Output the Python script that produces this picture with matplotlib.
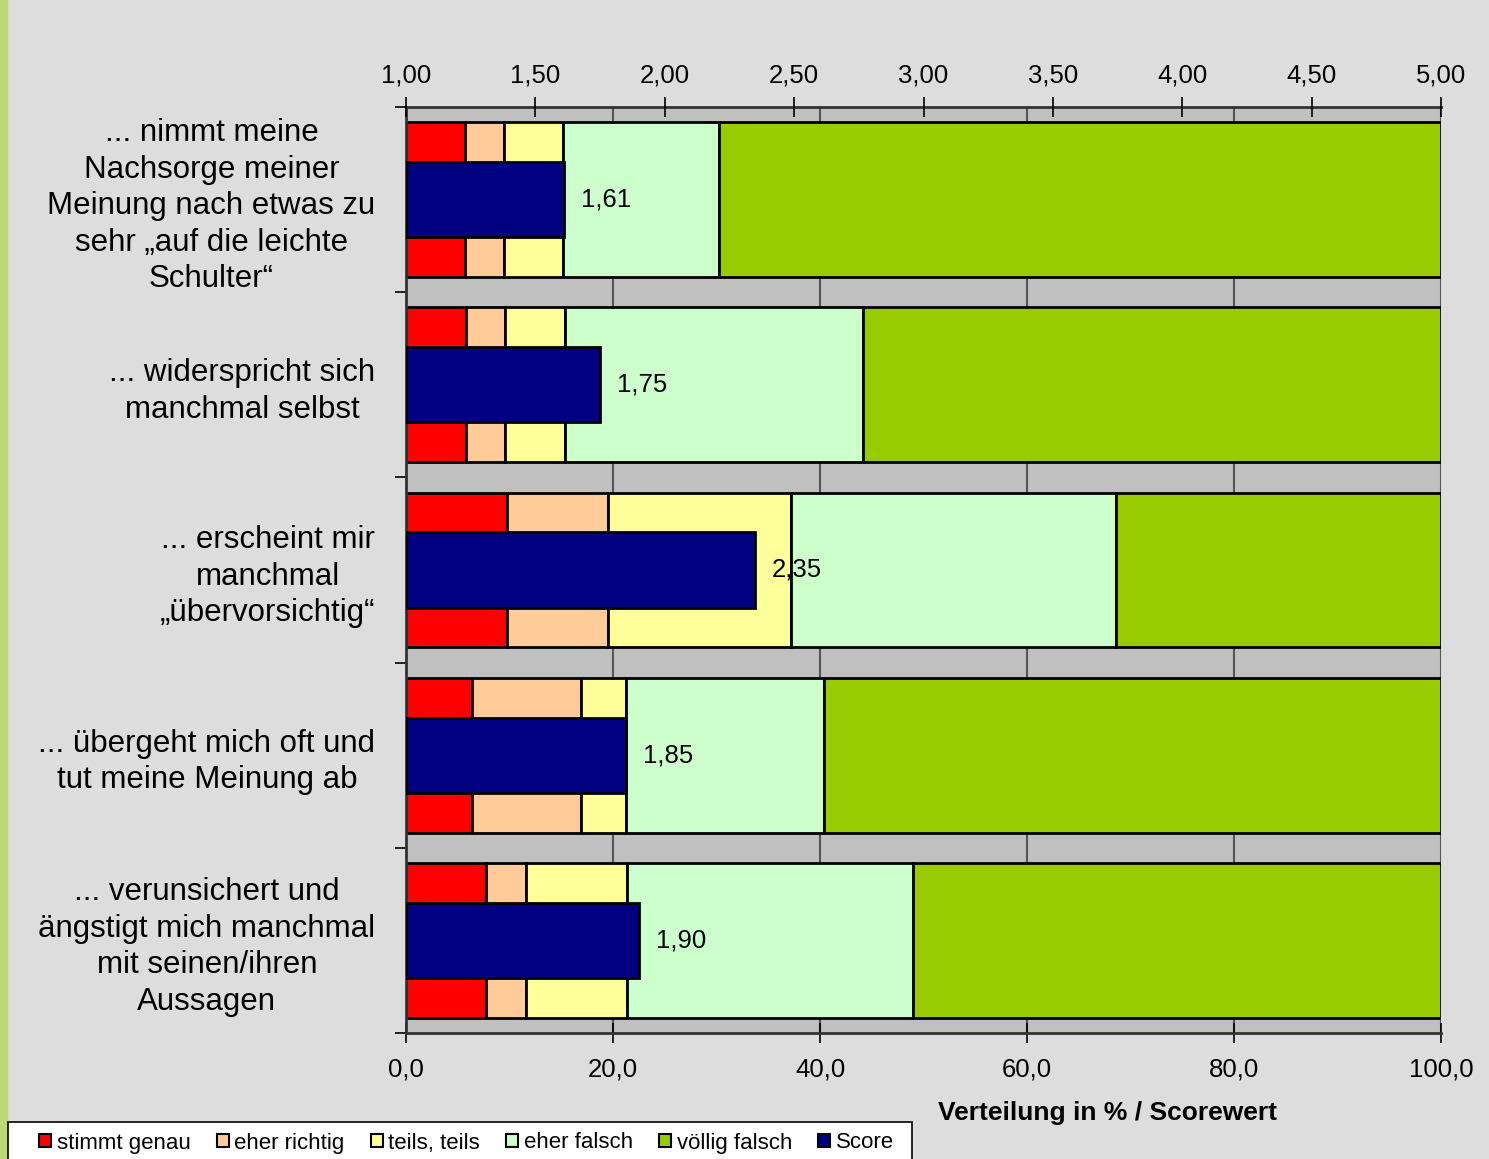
import matplotlib
matplotlib.use('Agg')
import matplotlib.pyplot as plt
from matplotlib.patches import Rectangle, Patch
from matplotlib.ticker import FuncFormatter, FixedLocator

plt.rcParams['font.family'] = ['Liberation Sans', 'DejaVu Sans']

labels = ['... nimmt meine\nNachsorge meiner\nMeinung nach etwas zu\nsehr „auf die leichte\nSchulter“',
          '... widerspricht sich\nmanchmal selbst',
          '... erscheint mir\nmanchmal\n„übervorsichtig“',
          '... übergeht mich oft und\ntut meine Meinung ab',
          '... verunsichert und\nängstigt mich manchmal\nmit seinen/ihren\nAussagen']
stimmt_genau = [5.7, 5.8, 9.8, 6.4, 7.7]
eher_richtig = [3.8, 3.8, 9.7, 10.5, 3.9]
teils_teils = [5.7, 5.8, 17.7, 4.4, 9.8]
eher_falsch = [15.0, 28.8, 31.4, 19.1, 27.6]
voellig_falsch = [69.8, 55.8, 31.4, 59.6, 51.0]
score = [1.61, 1.75, 2.35, 1.85, 1.90]

series = [('stimmt genau', stimmt_genau, '#FF0000'),
          ('eher richtig', eher_richtig, '#FFCC99'),
          ('teils, teils', teils_teils, '#FFFF99'),
          ('eher falsch', eher_falsch, '#CCFFCC'),
          ('völlig falsch', voellig_falsch, '#99CC00')]

fig = plt.figure(figsize=(14.89, 11.59), dpi=100, facecolor='#DDDDDD')
# green strip at the left edge
fig.patches.append(Rectangle((0, 0), 7 / 1489, 1, transform=fig.transFigure, color='#BDD975', zorder=0))

ax = fig.add_axes([406 / 1489, 126 / 1159, 1035 / 1489, 926 / 1159])
ax.set_facecolor('#C0C0C0')
y = list(range(len(labels)))
left = [0] * len(labels)
for name, vals, col in series:
    ax.barh(y, vals, left=left, height=0.835, color=col, edgecolor='black', linewidth=2, label=name, zorder=2)
    left = [l + v for l, v in zip(left, vals)]

ax.set_xlim(0, 100)
ax.set_ylim(4.5, -0.5)
ax.set_xticks([0, 20, 40, 60, 80, 100])
ax.xaxis.set_major_formatter(FuncFormatter(lambda v, p: f'{v:.1f}'.replace('.', ',')))
ax.grid(axis='x', color='#555555', linewidth=1.5)
ax.set_axisbelow(True)
ax.set_yticks(y)
ax.set_yticklabels(labels, fontsize=22.5, multialignment='center', linespacing=1.28)
ax.yaxis.set_minor_locator(FixedLocator([-0.5, 0.5, 1.5, 2.5, 3.5, 4.5]))
ax.tick_params(axis='y', which='major', length=0, pad=22)
ax.tick_params(axis='y', which='minor', length=8, width=1.2)
ax.tick_params(axis='x', direction='inout', length=14, width=1.2, labelsize=18.5, pad=11)
for s in ['top', 'bottom', 'left']:
    ax.spines[s].set_linewidth(2)
    ax.spines[s].set_color('#333333')
ax.spines['right'].set_visible(False)

ax2 = ax.twiny()
ax2.barh(y, [s - 1 for s in score], left=1, height=0.405, color='#000080', edgecolor='black', linewidth=2, label='Score', zorder=3)
ax2.set_xlim(1, 5)
ax2.set_xticks([1, 1.5, 2, 2.5, 3, 3.5, 4, 4.5, 5])
ax2.xaxis.set_major_formatter(FuncFormatter(lambda v, p: f'{v:.2f}'.replace('.', ',')))
ax2.tick_params(axis='x', direction='inout', length=14, width=1.2, labelsize=18.5, pad=7)
for s in ax2.spines.values():
    s.set_visible(False)
for yi, s in zip(y, score):
    ax2.text(s + 0.065, yi, f'{s:.2f}'.replace('.', ','), va='center', ha='left', fontsize=18.5, zorder=5)

fig.text(1107 / 1489, 1 - 1113 / 1159, 'Verteilung in % / Scorewert', ha='center', va='center',
         fontsize=19, fontweight='bold')

# legend box
fig.patches.append(Rectangle((8 / 1489, -0.01), 904 / 1489, 0.01 + 37 / 1159, transform=fig.transFigure,
                             facecolor='white', edgecolor='black', linewidth=1.2, zorder=1))
handles = [Patch(facecolor=c, edgecolor='black', linewidth=1.5) for _, _, c in series]
handles.append(Patch(facecolor='#000080', edgecolor='black', linewidth=1.5))
names = [n for n, _, _ in series] + ['Score']
fig.legend(handles, names, loc='center left', bbox_to_anchor=(28 / 1489, 1 - 1143 / 1159), ncol=6,
           frameon=False, fontsize=16, handlelength=0.55, handleheight=0.55, handletextpad=0.25,
           columnspacing=1.17, borderpad=0)

fig.savefig('out.png', dpi=100, facecolor=fig.get_facecolor())
